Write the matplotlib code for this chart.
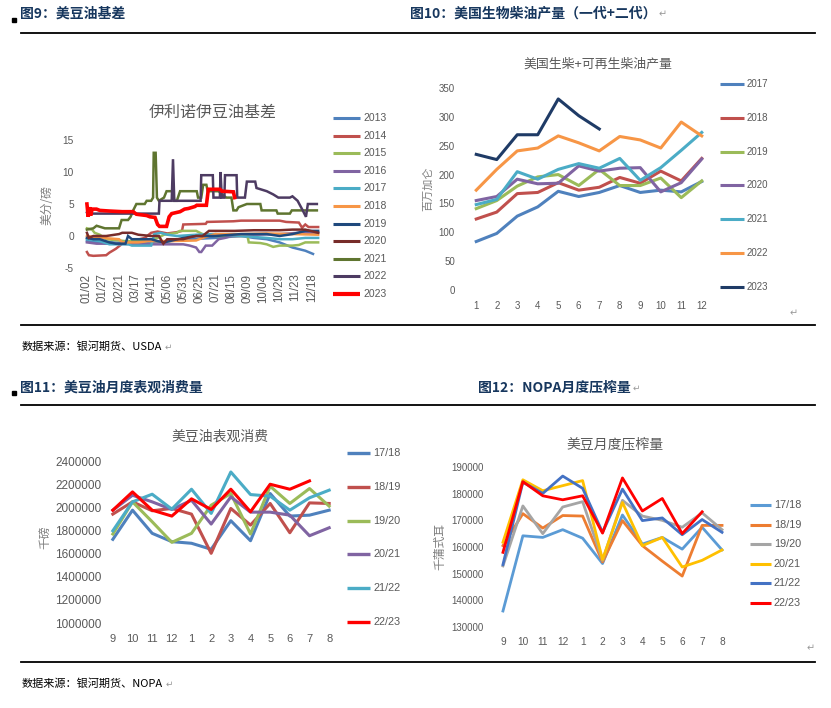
import matplotlib
matplotlib.use('Agg')
import matplotlib.pyplot as plt
from matplotlib.lines import Line2D
from matplotlib.patches import Rectangle
from matplotlib.ticker import FuncFormatter

plt.rcParams['font.family'] = ['Noto Sans CJK SC', 'DejaVu Sans']
plt.rcParams['axes.unicode_minus'] = False

# ---------------- data: chart 1 (Illinois soyoil basis, cents/lb) ----------------
basis_labels = ['01/02', '01/27', '02/21', '03/17', '04/11', '05/06', '05/31', '06/25',
                '07/21', '08/15', '09/09', '10/04', '10/29', '11/23', '12/18']
basis_years = ['2013', '2014', '2015', '2016', '2017', '2018', '2019', '2020', '2021', '2022', '2023']

d2013 = [0, 20, 40, 70, 100, 130, 160, 200, 240, 260, 280, 300, 320, 340, 352]
v2013 = [-0.8, -1.0, -1.0, -1.2, -1.0, -0.8, -0.5, -0.3, 0.0, -0.3, -0.5, -1.0, -1.8, -2.3, -2.8]
d2014 = [0, 3, 10, 30, 35, 45, 55, 70, 90, 100, 110, 125, 140, 148, 150, 185, 187, 228, 240, 300, 310, 330, 335, 340, 345, 360]
v2014 = [-2.5, -3.0, -3.1, -3.0, -2.6, -2.0, -1.2, -0.8, -0.3, 0.5, 0.7, 0.4, 0.6, 0.8, 1.8, 1.9, 2.2, 2.3, 2.4, 2.4, 2.2, 2.1, 1.3, 1.8, 1.4, 1.4]
d2015 = [0, 8, 12, 20, 30, 60, 90, 110, 120, 140, 145, 170, 180, 200, 240, 250, 252, 270, 280, 290, 300, 320, 330, 340, 345, 360]
v2015 = [1.2, 1.0, 0.5, 0.2, -0.5, -0.8, -0.8, -0.3, 0.2, 0.5, 0.8, 0.8, 0.3, 0.0, 0.0, 0.0, -1.0, -1.1, -1.3, -1.7, -1.5, -1.5, -1.4, -1.0, -1.0, -1.0]
d2016 = [0, 15, 40, 80, 120, 150, 160, 170, 175, 178, 185, 195, 205, 215, 225, 240, 260, 300, 330, 360]
v2016 = [-1.0, -1.2, -1.2, -1.3, -1.3, -1.3, -1.5, -1.8, -2.5, -2.5, -1.5, -1.5, -0.5, -0.3, 0.0, 0.0, 0.2, 0.3, 0.5, 0.5]
d2017 = [0, 20, 35, 65, 70, 100, 105, 115, 125, 140, 170, 200, 240, 280, 300, 320, 340, 360]
v2017 = [-0.5, -0.8, -1.3, -1.3, -1.5, -1.5, 0.3, 0.5, 0.2, 0.0, 0.2, 0.3, 0.0, -0.3, -0.5, -0.5, -0.3, -0.3]
d2018 = [0, 25, 50, 55, 80, 95, 100, 130, 170, 180, 190, 200, 240, 280, 320, 360]
v2018 = [0.0, -0.3, -0.5, -1.0, -1.0, -0.8, -0.8, -0.8, -0.7, -0.3, 0.0, 0.3, 0.3, 0.4, 0.3, 0.2]
d2019 = [0, 10, 20, 35, 45, 60, 64, 70, 100, 110, 120, 150, 170, 200, 240, 280, 300, 320, 340, 360]
v2019 = [-0.3, -0.5, -0.5, -1.0, -1.2, -1.2, 0.0, -0.5, -0.5, -0.8, -1.0, -0.3, 0.0, 0.0, 0.3, 0.3, 0.0, 0.3, 0.8, 0.8]
d2020 = [0, 3, 10, 30, 50, 55, 70, 80, 100, 112, 119, 125, 150, 160, 170, 180, 190, 230, 260, 300, 320, 340, 360]
v2020 = [0.5, -0.3, 0.0, 0.0, 0.3, 0.5, 0.5, 0.2, 0.0, 0.0, -1.2, -0.5, -0.5, -0.2, 0.0, 0.0, 0.8, 0.8, 0.9, 0.9, 1.0, 1.0, 0.5]
d2021 = [0, 10, 15, 28, 50, 54, 64, 68, 72, 77, 90, 93, 100, 103, 104, 107, 109, 112, 120, 124, 134, 136, 140, 145,
         171, 173, 178, 181, 186, 188, 205, 210, 217, 225, 228, 233, 236, 249, 270, 272, 295, 297, 316, 319, 358]
v2021 = [1.0, 1.2, 1.6, 1.2, 1.2, 2.5, 2.5, 3.0, 4.0, 5.0, 5.0, 5.5, 5.5, 6.0, 13.0, 13.0, 6.0, 5.5, 6.0, 7.0, 7.0, 5.5, 5.5, 7.0,
         7.0, 6.0, 6.0, 8.0, 8.0, 7.0, 7.0, 6.5, 6.0, 6.0, 4.0, 4.0, 4.5, 5.0, 5.0, 4.0, 4.0, 3.5, 3.5, 4.0, 4.0]
d2022 = [0, 5, 112, 113, 132, 134, 136, 177, 178, 196, 197, 207, 208, 210, 214, 215, 233, 234, 246, 249, 262, 264,
         280, 290, 298, 316, 320, 328, 336, 341, 344, 358]
v2022 = [3.7, 3.5, 3.5, 5.5, 5.5, 12.0, 5.5, 5.5, 9.5, 9.5, 6.0, 6.0, 10.0, 6.0, 6.0, 9.5, 9.5, 6.0, 6.0, 8.5, 8.5, 7.5,
         7.0, 6.5, 6.0, 6.0, 6.2, 5.5, 4.0, 3.0, 5.0, 5.0]
d2023 = [0, 2, 4, 6, 8, 15, 20, 35, 55, 72, 77, 93, 98, 106, 110, 113, 124, 128, 132, 145, 152, 158, 168, 171, 186,
         189, 207, 210, 228, 230]
v2023 = [5.0, 3.0, 4.5, 3.2, 4.2, 4.2, 4.0, 3.9, 3.8, 3.8, 3.4, 3.2, 3.0, 2.9, 1.8, 1.5, 1.5, 3.0, 3.5, 3.8, 4.2, 4.3, 4.6, 4.8, 4.8,
         7.3, 7.3, 7.0, 6.9, 6.0]

# ---------------- data: chart 2 (US biodiesel + renewable diesel, million gallons) ----------------
months = [1, 2, 3, 4, 5, 6, 7, 8, 9, 10, 11, 12]
bd_years = ['2017', '2018', '2019', '2020', '2021', '2022', '2023']
bd2017 = [84, 98, 128, 144, 171, 162, 169, 181, 169, 173, 170, 188]
bd2018 = [123, 135, 167, 169, 186, 173, 178, 195, 185, 206, 189, 228]
bd2019 = [141, 155, 180, 196, 200, 181, 209, 181, 181, 194, 160, 189]
bd2020 = [155, 162, 192, 184, 185, 215, 206, 211, 212, 170, 186, 227]
bd2021 = [148, 157, 205, 192, 209, 219, 211, 228, 190, 212, 242, 273]
bd2022 = [173, 209, 241, 246, 267, 255, 241, 266, 260, 246, 291, 267]
bd2023 = [235, 226, 269, 269, 331, 302, 279]

# ---------------- data: chart 3 (US soyoil apparent consumption, 1000 lb) ----------------
my_months = ['9', '10', '11', '12', '1', '2', '3', '4', '5', '6', '7', '8']
seasons = ['17/18', '18/19', '19/20', '20/21', '21/22', '22/23']
use1718 = [1723000, 1975000, 1775000, 1703000, 1689000, 1637000, 1884000, 1711000, 2119000, 1924000, 1932000, 1975000]
use1819 = [1941000, 2047000, 1970000, 1990000, 1941000, 1602000, 1990000, 1846000, 2033000, 1780000, 2038000, 2033000]
use1920 = [1769000, 2047000, 1875000, 1697000, 1775000, 2018000, 2119000, 1769000, 2182000, 2033000, 2162000, 2010000]
use2021 = [1975000, 2104000, 2047000, 1981000, 2061000, 1855000, 2090000, 1958000, 1958000, 1932000, 1754000, 1823000]
use2122 = [1797000, 2047000, 2113000, 1984000, 2156000, 1947000, 2305000, 2110000, 2096000, 1975000, 2082000, 2148000]
use2223 = [1975000, 2133000, 1975000, 1924000, 2073000, 1981000, 2156000, 1961000, 2199000, 2156000, 2228000]

# ---------------- data: chart 4 (NOPA monthly crush, 1000 bu) ----------------
cr1718 = [136000, 164200, 163600, 166500, 163300, 153800, 172000, 161100, 163600, 159200, 167400, 158900]
cr1819 = [160500, 172500, 167100, 171800, 171600, 154400, 169900, 160500, 154700, 149100, 168100, 168100]
cr1920 = [152900, 175400, 165000, 175000, 177000, 155000, 177500, 171600, 170000, 167400, 172800, 166500]
cr2021 = [161800, 185200, 181100, 183000, 184900, 155300, 176700, 160500, 163600, 152500, 155000, 158900]
cr2122 = [153400, 184300, 180100, 186600, 182000, 165500, 181700, 169900, 170900, 164600, 170300, 165500]
cr2223 = [158000, 184500, 179200, 177700, 179200, 165200, 185900, 173500, 178200, 165000, 173200]

# ---------------- layout helpers ----------------
W, H = 831, 708
fig = plt.figure(figsize=(W / 100, H / 100), dpi=100)
renderer = fig.canvas.get_renderer()
GRAY = '#595959'
NAVY = '#17375E'
NUMFONT = ['Liberation Sans', 'Noto Sans CJK SC', 'DejaVu Sans']


def rect(l, t, r, b):
    return [l / W, 1 - b / H, (r - l) / W, (b - t) / H]


def ftext(x, y, s, **kw):
    return fig.text(x / W, 1 - y / H, s, **kw)


def para_mark(t, y, fs=6.5, gap=2):
    bb = t.get_window_extent(renderer)
    ftext(bb.x1 + gap, y, '↵', fontsize=fs, color='#999999', va='center', family=['DejaVu Sans'])


def hline(y, x0=21, x1=815, lw=1.3):
    fig.add_artist(Line2D([x0 / W, x1 / W], [1 - y / H, 1 - y / H], color='black', lw=lw))


def mini_legend(names, colors, x0, x1, xt, y0, dy, lw, fs, widths=None):
    for i, (n, c) in enumerate(zip(names, colors)):
        y = y0 + dy * i
        w = lw if widths is None else widths[i]
        fig.add_artist(Line2D([x0 / W, x1 / W], [1 - y / H, 1 - y / H], color=c, lw=w,
                              solid_capstyle='butt'))
        ftext(xt, y, n, fontsize=fs, color=GRAY, va='center', ha='left', family=NUMFONT)


def style(ax, fsx, fsy, padx, pady):
    for s in ax.spines.values():
        s.set_visible(False)
    ax.tick_params(axis='both', length=0, colors=GRAY)
    ax.tick_params(axis='x', pad=padx, labelsize=fsx)
    ax.tick_params(axis='y', pad=pady, labelsize=fsy)
    for lab in ax.get_xticklabels() + ax.get_yticklabels():
        lab.set_family(NUMFONT)
    ax.patch.set_alpha(0)


# ---------------- page decorations ----------------
fig.add_artist(Rectangle((12 / W, 1 - 22 / H), 4 / W, 4 / H, color='black'))
fig.add_artist(Rectangle((12 / W, 1 - 395 / H), 4 / W, 4 / H, color='black'))
ftext(20, 14, '图9：美豆油基差', fontsize=10, fontweight='bold', color=NAVY, va='center')
t = ftext(410, 14, '图10：美国生物柴油产量（一代+二代）', fontsize=10, fontweight='bold', color=NAVY, va='center')
para_mark(t, 14, fs=7)
hline(33)
hline(325)
t = ftext(22, 347, '数据来源：银河期货、USDA', fontsize=8, color='black', va='center')
para_mark(t, 347)
ftext(20, 388, '图11：美豆油月度表观消费量', fontsize=10, fontweight='bold', color=NAVY, va='center')
t = ftext(478, 388, '图12：NOPA月度压榨量', fontsize=10, fontweight='bold', color=NAVY, va='center')
para_mark(t, 388)
hline(405)
hline(662)
t = ftext(22, 684, '数据来源：银河期货、NOPA', fontsize=8, color='black', va='center')
para_mark(t, 684)
ftext(790, 313, '↵', fontsize=7, color='#999999', va='center', family=['DejaVu Sans'])
ftext(807, 648, '↵', fontsize=7, color='#999999', va='center', family=['DejaVu Sans'])

# ---------------- chart 1 ----------------
ax1 = fig.add_axes(rect(85, 140, 322, 268))
c1 = ['#4F81BD', '#C0504D', '#9BBB59', '#8064A2', '#4BACC6', '#F79646',
      '#1F497D', '#772C2A', '#5F7530', '#4D3B62', '#FF0000']
series1 = [(d2013, v2013), (d2014, v2014), (d2015, v2015), (d2016, v2016), (d2017, v2017),
           (d2018, v2018), (d2019, v2019), (d2020, v2020), (d2021, v2021), (d2022, v2022), (d2023, v2023)]
for (d, v), c, n in zip(series1, c1, basis_years):
    ax1.plot(d, v, color=c, lw=2.6 if n == '2023' else 1.8, solid_joinstyle='miter')
ax1.set_xlim(-3, 366)
ax1.set_ylim(-5, 15)
ax1.set_yticks([-5, 0, 5, 10, 15])
ax1.set_xticks([25 * i for i in range(len(basis_labels))])
ax1.set_xticklabels(basis_labels, rotation=90)
style(ax1, 8.3, 7.3, 4, 8)
ftext(213, 112, '伊利诺伊豆油基差', fontsize=11.5, color=GRAY, ha='center', va='center')
ftext(47, 205, '美分/磅', fontsize=8.5, color='#7F7F7F', ha='center', va='center', rotation=90)
mini_legend(basis_years, c1, 333, 360, 363, 118, 17.6, 2.2, 7.5,
            widths=[2.2] * 10 + [3.0])

# ---------------- chart 2 ----------------
ax2 = fig.add_axes(rect(466, 88, 712, 290))
c2 = ['#4F81BD', '#C0504D', '#9BBB59', '#8064A2', '#4BACC6', '#F79646', '#1F3B66']
series2 = [bd2017, bd2018, bd2019, bd2020, bd2021, bd2022, bd2023]
for v, c in zip(series2, c2):
    ax2.plot(months[:len(v)], v, color=c, lw=2.2)
ax2.set_xlim(0.5, 12.5)
ax2.set_ylim(0, 350)
ax2.set_yticks(range(0, 351, 50))
ax2.set_xticks(months)
style(ax2, 7, 7, 8, 8)
ftext(598, 64, '美国生柴+可再生柴油产量', fontsize=9.3, color=GRAY, ha='center', va='center')
ftext(428, 189, '百万加仑', fontsize=8, color='#7F7F7F', ha='center', va='center', rotation=90)
mini_legend(bd_years, c2, 720, 744, 747, 84, 33.8, 2.2, 7)

# ---------------- chart 3 ----------------
ax3 = fig.add_axes(rect(103, 461, 339, 623))
c3 = ['#4F81BD', '#C0504D', '#9BBB59', '#8064A2', '#4BACC6', '#FF0000']
series3 = [use1718, use1819, use1920, use2021, use2122, use2223]
for v, c in zip(series3, c3):
    ax3.plot(range(len(v)), v, color=c, lw=2.2)
ax3.set_xlim(-0.5, 11.5)
ax3.set_ylim(1000000, 2400000)
ax3.set_yticks(range(1000000, 2400001, 200000))
ax3.yaxis.set_major_formatter(FuncFormatter(lambda x, p: '%d' % x))
ax3.set_xticks(range(12))
ax3.set_xticklabels(my_months)
style(ax3, 8, 8.5, 8, 1)
ftext(220, 437, '美豆油表观消费', fontsize=10, color=GRAY, ha='center', va='center')
ftext(45, 537, '千磅', fontsize=8.5, color='#7F7F7F', ha='center', va='center', rotation=90)
mini_legend(seasons, c3, 347, 370, 373, 453, 33.8, 2.4, 7.8)

# ---------------- chart 4 ----------------
ax4 = fig.add_axes(rect(493, 467, 732, 627))
c4 = ['#5B9BD5', '#ED7D31', '#A5A5A5', '#FFC000', '#4472C4', '#FF0000']
series4 = [cr1718, cr1819, cr1920, cr2021, cr2122, cr2223]
for v, c in zip(series4, c4):
    ax4.plot(range(len(v)), v, color=c, lw=2.0)
ax4.set_xlim(-0.5, 11.5)
ax4.set_ylim(130000, 190000)
ax4.set_yticks(range(130000, 190001, 10000))
ax4.set_xticks(range(12))
ax4.set_xticklabels(my_months)
style(ax4, 7.3, 7, 7, 6.5)
ftext(615, 444, '美豆月度压榨量', fontsize=10, color=GRAY, ha='center', va='center')
ftext(440, 547, '千蒲式耳', fontsize=8.5, color='#7F7F7F', ha='center', va='center', rotation=90)
mini_legend(seasons, c4, 750, 771, 774, 505, 19.6, 2.2, 7.8)

fig.savefig('out.png', dpi=100)
